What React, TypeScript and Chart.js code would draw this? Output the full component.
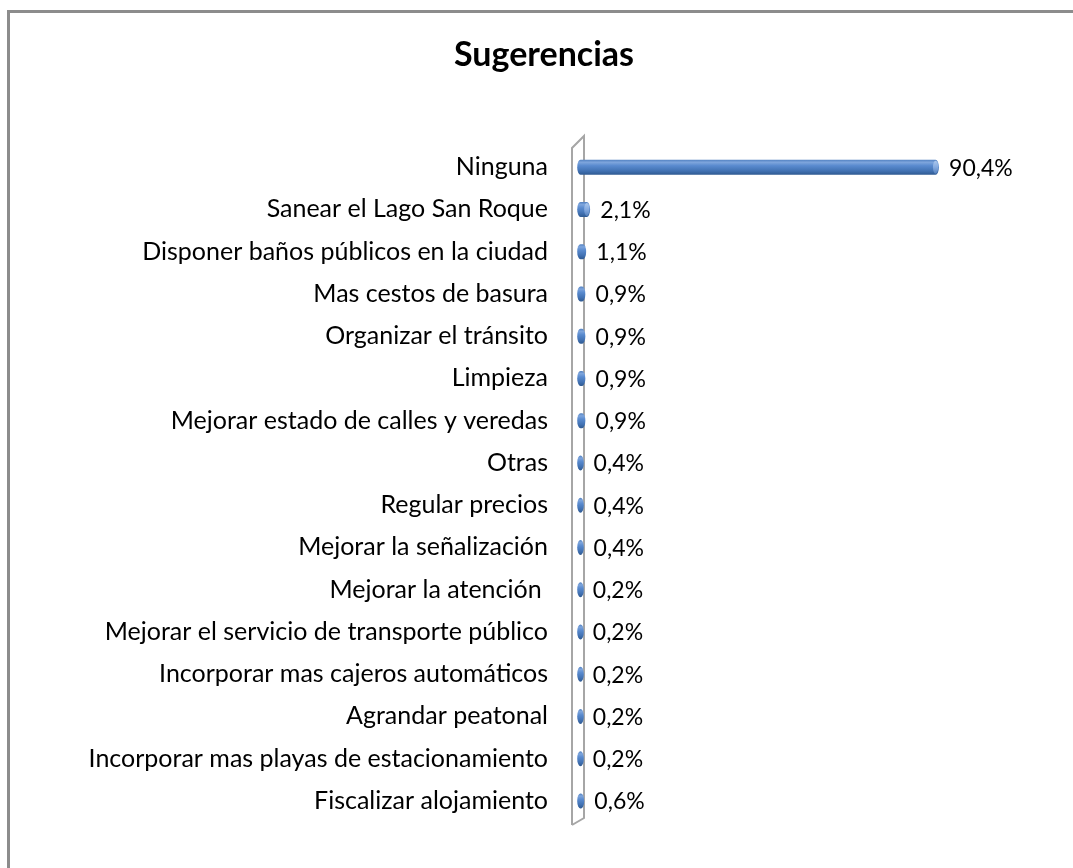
import React, { useEffect, useRef } from "react";
import { Chart, registerables } from "chart.js";

Chart.register(...registerables);

const titleText = "Sugerencias";
const categories = [
  "Ninguna",
  "Sanear el Lago San Roque",
  "Disponer baños públicos en la ciudad",
  "Mas cestos de basura",
  "Organizar el tránsito",
  "Limpieza",
  "Mejorar estado de calles y veredas",
  "Otras",
  "Regular precios",
  "Mejorar la señalización",
  "Mejorar la atención ",
  "Mejorar el servicio de transporte público",
  "Incorporar mas cajeros automáticos",
  "Agrandar peatonal",
  "Incorporar mas playas de estacionamiento",
  "Fiscalizar alojamiento",
];
const values = [90.4, 2.1, 1.1, 0.9, 0.9, 0.9, 0.9, 0.4, 0.4, 0.4, 0.2, 0.2, 0.2, 0.2, 0.2, 0.6];

const FONT = "Lato, 'Open Sans', sans-serif";
const fmt = (v: number) => v.toFixed(1).replace(".", ",") + "%";

const titlePlugin = {
  id: "customTitle",
  afterDraw(chart: any) {
    const { ctx } = chart;
    ctx.save();
    ctx.fillStyle = "#000";
    ctx.font = `bold 34px ${FONT}`;
    ctx.textAlign = "center";
    ctx.textBaseline = "middle";
    ctx.fillText(titleText, 544, 55);
    ctx.restore();
  },
};

const wallPlugin = {
  id: "wall",
  beforeDatasetsDraw(chart: any) {
    const { ctx, chartArea } = chart;
    const L = chartArea.left;
    const T = chartArea.top;
    const B = chartArea.bottom;
    ctx.save();
    ctx.strokeStyle = "#a6a6a6";
    ctx.lineWidth = 2;
    ctx.beginPath();
    ctx.moveTo(L - 6, B + 3);
    ctx.lineTo(L - 6, T + 2);
    ctx.lineTo(L + 6, T - 10);
    ctx.lineTo(L + 6, B - 4);
    ctx.lineTo(L - 6, B + 3);
    ctx.stroke();
    ctx.restore();
  },
};

const cylinderPlugin = {
  id: "cylinders",
  afterDatasetsDraw(chart: any) {
    const { ctx } = chart;
    const meta = chart.getDatasetMeta(0);
    const ds = chart.data.datasets[0];
    ctx.save();
    meta.data.forEach((el: any, i: number) => {
      const { x, y, base, height } = el.getProps(["x", "y", "base", "height"], true);
      const ry = height / 2;
      const rx = 3.3;
      const cl = base + rx - 0.8;
      const cr = Math.max(x + 0.5, cl);
      const g = ctx.createLinearGradient(0, y - ry, 0, y + ry);
      g.addColorStop(0, "#4f7fc0");
      g.addColorStop(0.18, "#7ea5dc");
      g.addColorStop(0.4, "#5a8bcf");
      g.addColorStop(0.75, "#4272b3");
      g.addColorStop(1, "#2f5a92");
      ctx.beginPath();
      ctx.moveTo(cl, y - ry);
      ctx.lineTo(cr, y - ry);
      ctx.ellipse(cr, y, rx, ry, 0, -Math.PI / 2, Math.PI / 2);
      ctx.lineTo(cl, y + ry);
      ctx.ellipse(cl, y, rx, ry, 0, Math.PI / 2, (3 * Math.PI) / 2);
      ctx.closePath();
      ctx.fillStyle = g;
      ctx.fill();
      if (cr - cl > 4) {
        const g2 = ctx.createLinearGradient(0, y - ry, 0, y + ry);
        g2.addColorStop(0, "#b3cdef");
        g2.addColorStop(0.5, "#86abe0");
        g2.addColorStop(1, "#4d7bb9");
        ctx.beginPath();
        ctx.ellipse(cr, y, rx - 0.7, ry - 1, 0, 0, Math.PI * 2);
        ctx.fillStyle = g2;
        ctx.fill();
      }
      ctx.fillStyle = "#000";
      ctx.font = `23px ${FONT}`;
      ctx.textAlign = "left";
      ctx.textBaseline = "middle";
      ctx.fillText(fmt(ds.data[i]), x + 14, y + 1);
    });
    ctx.restore();
  },
};

if (typeof document !== "undefined") {
  document.body.style.margin = "0";
  document.body.style.overflow = "hidden";
}

export default function App() {
  const ref = useRef<HTMLCanvasElement | null>(null);
  useEffect(() => {
    if (!ref.current) return;
    const chart = new Chart(ref.current, {
      type: "bar",
      data: {
        labels: categories,
        datasets: [
          {
            data: values,
            backgroundColor: "rgba(0,0,0,0)",
            borderWidth: 0,
            barThickness: 15,
          },
        ],
      },
      options: {
        indexAxis: "y",
        animation: false,
        responsive: false,
        maintainAspectRatio: false,
        layout: { padding: { left: 0, right: 100, top: 146, bottom: 46 } },
        plugins: {
          legend: { display: false },
          tooltip: { enabled: false },
          title: { display: false },
        },
        scales: {
          x: { display: false, min: 0, max: 100 },
          y: {
            grid: { display: false, drawTicks: false },
            border: { display: false },
            ticks: {
              color: "#000",
              padding: 30,
              font: { family: FONT, size: 25 },
            },
            afterFit(scale: any) {
              scale.width = 578;
            },
          },
        },
      },
      plugins: [wallPlugin, cylinderPlugin, titlePlugin],
    });
    return () => chart.destroy();
  }, []);
  return (
    <div style={{ position: "relative", width: 1073, height: 868, overflow: "hidden", background: "#fff" }}>
      <div
        style={{
          position: "absolute",
          left: 7,
          top: 10,
          width: 1066,
          height: 858,
          boxSizing: "border-box",
          borderLeft: "3px solid #8c8c8c",
          borderTop: "3px solid #8c8c8c",
        }}
      />
      <canvas ref={ref} width={1073} height={868} style={{ position: "absolute", left: 0, top: 0, display: "block" }} />
    </div>
  );
}
